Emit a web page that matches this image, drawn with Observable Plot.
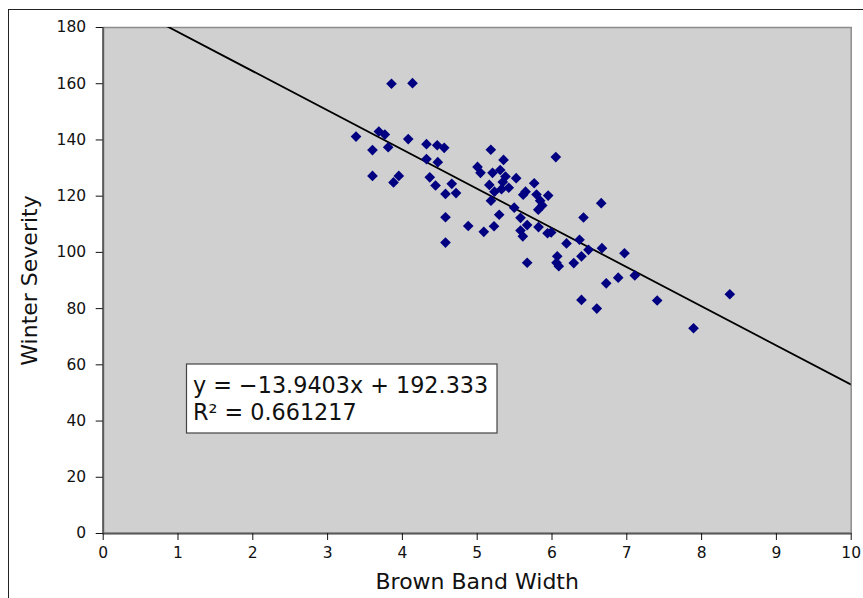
<!DOCTYPE html>
<html>
<head>
<meta charset="utf-8">
<script src="https://cdn.jsdelivr.net/npm/d3@7"></script>
<script src="https://cdn.jsdelivr.net/npm/@observablehq/plot@0.6"></script>
<style>
  html, body { margin: 0; padding: 0; background: #fff; }
  #wrap { position: relative; width: 863px; height: 598px; overflow: hidden; }
  #edge { position: absolute; left: 8px; top: 9px; width: 900px; height: 700px;
          border-left: 1.5px solid #222; border-top: 1.5px solid #222; pointer-events: none; }
</style>
</head>
<body>
<div id="wrap"><div id="edge"></div></div>
<script>
// Data
const brownBandWidth = [3.38,3.60,3.60,3.685,3.765,3.81,3.854,3.881,3.952,4.078,4.135,4.322,4.322,4.366,4.443,4.465,4.473,4.559,4.576,4.576,4.576,4.66,4.717,4.88,5.004,5.044,5.088,5.182,5.162,5.184,5.205,5.231,5.225,5.294,5.307,5.352,5.378,5.342,5.325,5.422,5.495,5.521,5.579,5.579,5.61,5.646,5.615,5.668,5.668,5.762,5.793,5.842,5.869,5.816,5.82,5.949,5.94,5.989,6.051,6.07,6.06,6.091,6.194,6.291,6.368,6.394,6.394,6.421,6.488,6.599,6.658,6.668,6.725,6.885,6.969,7.107,7.406,7.892,8.377];
const winterSeverity = [141.2,136.4,127.2,143.0,141.9,137.4,160.0,124.9,127.2,140.3,160.2,138.5,133.2,126.7,123.8,138.1,132.1,137.2,120.8,112.5,103.5,124.4,121.1,109.4,130.4,128.3,107.3,136.5,124.0,118.4,128.3,121.6,109.3,113.4,129.3,132.9,127.0,125.0,122.5,123.0,115.9,126.4,112.3,107.8,105.7,121.6,120.5,109.7,96.3,124.6,120.6,118.4,116.7,115.2,109.0,120.2,106.8,107.1,133.9,98.6,96.3,95.1,103.2,96.2,104.5,98.6,83.1,112.4,100.9,80.0,117.5,101.5,89.0,91.0,99.7,91.8,82.9,73.0,85.1];
const slope = -13.9403;
const intercept = 192.333;
const rSquared = 0.661217;
const xTicks = [0,1,2,3,4,5,6,7,8,9,10];
const yTicks = [0,20,40,60,80,100,120,140,160,180];
const xLabel = "Brown Band Width";
const yLabel = "Winter Severity";
const eqLine1 = "y = \u221213.9403x + 192.333";
const eqLine2 = "R\u00b2 = 0.661217";

const points = brownBandWidth.map((x, i) => ({x, y: winterSeverity[i]}));
const xDomain = [xTicks[0], xTicks[xTicks.length - 1]];
const trend = xDomain.map(x => ({x, y: slope * x + intercept}));

const W = 863, H = 598;
const mL = 102.7, mR = 12.3, mT = 27, mB = 65;

const chart = Plot.plot({
  width: W, height: H,
  marginLeft: mL, marginRight: mR, marginTop: mT, marginBottom: mB,
  style: {fontFamily: "DejaVu Sans", fontSize: "15.5px", color: "#111", background: "transparent"},
  x: {domain: xDomain, ticks: xTicks, tickSize: 7, tickPadding: 6, label: null, tickFormat: d3.format("d")},
  y: {domain: [0, 180], ticks: yTicks, tickSize: 7, tickPadding: 10, label: null, tickFormat: d3.format("d")},
  marks: [
    Plot.frame({fill: "#d0d0d0", stroke: "#8c8c8c", strokeWidth: 1.5}),
    Plot.ruleX([0], {stroke: "#5a5a5a", strokeWidth: 2}),
    Plot.ruleY([0], {stroke: "#5a5a5a", strokeWidth: 2}),
    Plot.axisX({ticks: xTicks, tickSize: 7, tickPadding: 6, stroke: "#111", tickFormat: d3.format("d"), label: null}),
    Plot.axisY({ticks: yTicks, tickSize: 7, tickPadding: 10, stroke: "#111", tickFormat: d3.format("d"), label: null}),
    Plot.line(trend, {x: "x", y: "y", stroke: "#000", strokeWidth: 1.8, clip: true}),
    Plot.dot(points, {x: "x", y: "y", symbol: "diamond2", r: 4.8, fill: "#000080", stroke: "none"}),
    Plot.text([xLabel], {frameAnchor: "bottom", dy: 48, text: d => d, fontSize: 22, fill: "#111", lineAnchor: "middle", textAnchor: "middle"}),
    Plot.text([yLabel], {frameAnchor: "left", dx: -73.7, rotate: -90, text: d => d, fontSize: 22, fill: "#111", lineAnchor: "middle", textAnchor: "middle"})
  ]
});

document.getElementById("wrap").insertBefore(chart, document.getElementById("edge"));

// Equation annotation box
const svg = d3.select(chart);
const g = svg.append("g").attr("text-anchor", "start");
g.append("rect").attr("x", 186.5).attr("y", 364).attr("width", 310.5).attr("height", 69)
  .attr("fill", "#fff").attr("stroke", "#444").attr("stroke-width", 1.2);
g.append("text").attr("x", 193).attr("y", 392.5).attr("font-size", 22.3).attr("fill", "#111")
  .attr("text-anchor", "start").attr("font-family", "DejaVu Sans").text(eqLine1);
g.append("text").attr("x", 193).attr("y", 419.5).attr("font-size", 22.3).attr("fill", "#111")
  .attr("text-anchor", "start").attr("font-family", "DejaVu Sans").text(eqLine2);
</script>
</body>
</html>
